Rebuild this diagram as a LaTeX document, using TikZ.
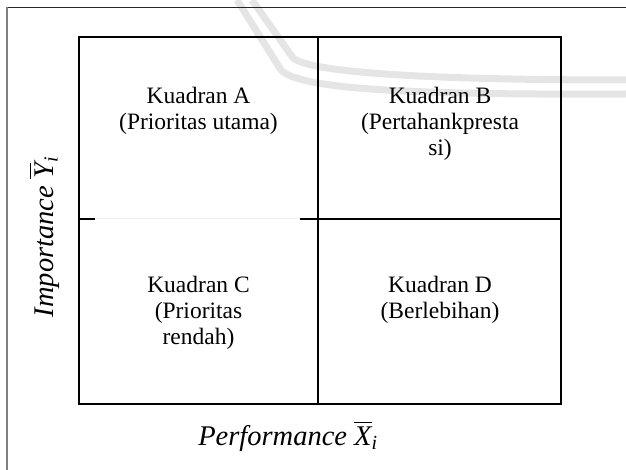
\documentclass[tikz,border=0pt]{standalone}
\usepackage{amsmath}
\usepackage{fontspec}
\setmainfont{Liberation Serif}

\begin{document}
\begin{tikzpicture}[
    x=1pt, y=-1pt,
    every node/.style={align=center, inner sep=0pt},
    quad/.style={anchor=north, font=\fontsize{23.5}{26}\selectfont},
    axislabel/.style={anchor=base, font=\fontsize{28.5}{31}\selectfont\itshape},
    gridline/.style={line width=1.3pt},
    wmark/.style={line width=7pt, gray!20}
]
\useasboundingbox (0,0) rectangle (626,470);

% Watermark
\draw[wmark] (252,0) -- (293,58) .. controls (310,72) and (420,80) .. (626,80);
\draw[wmark] (237,0) -- (281,70) .. controls (300,90) and (420,95) .. (626,94);

% Frame
\draw[line width=0.8pt, black!85] (7,7) -- (626,7);
\draw[line width=1.5pt, gray] (7,7) -- (7,470);

% Grid
\draw[gridline] (79,37) rectangle (561,404);
\draw[gridline] (318,37) -- (318,404);
\draw[gridline] (79,219) -- (95,219);
\draw[line width=1pt, gray!12] (95,219) -- (300,219);
\draw[gridline] (300,219) -- (561,219);

% Nodes
\node[quad] (qa) at (198.5,87) {Kuadran A\\(Prioritas utama)};
\node[quad] (qb) at (440,87) {Kuadran B\\(Pertahankpresta\\si)};
\node[quad] (qc) at (198.5,276) {Kuadran C\\(Prioritas\\rendah)};
\node[quad] (qd) at (440,276) {Kuadran D\\(Berlebihan)};
\node[axislabel] (xlab) at (288,445) {Performance $\overline{\textit{X}}_{\textit{i}}$};
\node[axislabel, rotate=90] (ylab) at (53,237) {Importance $\overline{\textit{Y}}_{\textit{i}}$};

\end{tikzpicture}
\end{document}
